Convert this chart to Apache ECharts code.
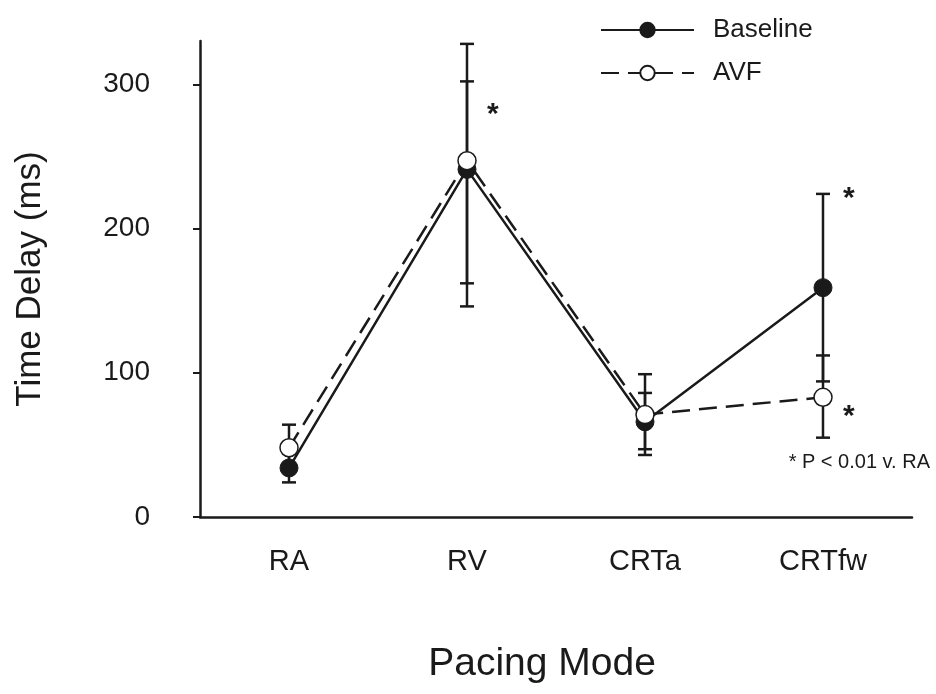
<!DOCTYPE html>
<html>
<head>
<meta charset="utf-8">
<script src="https://cdn.jsdelivr.net/npm/echarts@6/dist/echarts.min.js"></script>
<style>
html,body{margin:0;padding:0;background:#fff;}
#chart{width:936px;height:694px;}
</style>
</head>
<body>
<div id="chart"></div>
<script>
const categories = ['RA', 'RV', 'CRTa', 'CRTfw'];
const baselineMean = [34, 241, 66, 159];
const baselineLow  = [24, 146, 47, 94];
const baselineHigh = [44, 302, 86, 224];
const avfMean = [48, 247, 71, 83];
const avfLow  = [32, 162, 43, 55];
const avfHigh = [64, 328, 99, 112];
const yTicks = [0, 100, 200, 300];
const yMax = 330;
// significance asterisks: category index and value
const starCat = [1, 3, 3];
const starVal = [283, 225, 74];
const footnote = '* P < 0.01 v. RA';

const FONT = '"Liberation Sans", Arial, sans-serif';
const INK = '#1a1a1a';

function errData(low, high) {
  return categories.map((c, i) => [i, low[i], high[i]]);
}
function renderErr(params, api) {
  const x = api.value(0);
  const lo = api.coord([x, api.value(1)]);
  const hi = api.coord([x, api.value(2)]);
  const hw = 7;
  const style = { stroke: INK, lineWidth: 2.5 };
  return {
    type: 'group',
    children: [
      { type: 'line', shape: { x1: lo[0], y1: lo[1], x2: hi[0], y2: hi[1] }, style },
      { type: 'line', shape: { x1: lo[0] - hw, y1: lo[1], x2: lo[0] + hw, y2: lo[1] }, style },
      { type: 'line', shape: { x1: hi[0] - hw, y1: hi[1], x2: hi[0] + hw, y2: hi[1] }, style }
    ]
  };
}
function renderStar(params, api) {
  const p = api.coord([api.value(0), api.value(1)]);
  return {
    type: 'text',
    x: p[0] + 20, y: p[1] + 6,
    style: { text: '*', fontFamily: FONT, fontSize: 30, fontWeight: 'bold', fill: INK, align: 'left', verticalAlign: 'middle' }
  };
}

const chart = echarts.init(document.getElementById('chart'));
chart.setOption({
  backgroundColor: '#fff',
  animation: false,
  grid: { left: 200, right: 24, top: 41, bottom: 177, containLabel: false },
  legend: {
    orient: 'vertical',
    left: 595, top: 12,
    itemWidth: 93, itemHeight: 18, itemGap: 17,
    textStyle: { fontFamily: FONT, fontSize: 26, color: INK, padding: [0, 0, 0, 14] },
    data: ['Baseline', 'AVF']
  },
  xAxis: {
    type: 'category',
    data: categories,
    boundaryGap: true,
    name: 'Pacing Mode',
    nameLocation: 'middle',
    nameGap: 128,
    nameTextStyle: { fontFamily: FONT, fontSize: 39, color: INK, padding: [0, 28, 0, 0] },
    axisLine: { lineStyle: { color: INK, width: 2.5 } },
    axisTick: { alignWithLabel: true, length: 7, lineStyle: { color: INK, width: 2 } },
    axisLabel: { fontFamily: FONT, fontSize: 29, color: INK, margin: 30 },
    splitLine: { show: false }
  },
  yAxis: {
    type: 'value',
    min: 0, max: yMax, interval: 100,
    name: 'Time Delay (ms)',
    nameLocation: 'middle',
    nameGap: 152,
    nameTextStyle: { fontFamily: FONT, fontSize: 35, color: INK },
    axisLine: { show: true, lineStyle: { color: INK, width: 2.5 } },
    axisTick: { show: true, length: 7, lineStyle: { color: INK, width: 2 }, customValues: yTicks },
    axisLabel: { fontFamily: FONT, fontSize: 28, color: INK, margin: 50, customValues: yTicks },
    splitLine: { show: false }
  },
  series: [
    {
      type: 'custom', name: 'errBaseline', renderItem: renderErr,
      data: errData(baselineLow, baselineHigh), z: 1, silent: true
    },
    {
      type: 'custom', name: 'errAVF', renderItem: renderErr,
      data: errData(avfLow, avfHigh), z: 1, silent: true
    },
    {
      name: 'Baseline', type: 'line', data: baselineMean, z: 3,
      symbol: 'circle', symbolSize: 18,
      lineStyle: { color: INK, width: 2.5 },
      itemStyle: { color: INK, borderColor: INK, borderWidth: 1 }
    },
    {
      name: 'AVF', type: 'line', data: avfMean, z: 4,
      symbol: 'circle', symbolSize: 18,
      lineStyle: { color: INK, width: 2.5, type: [18, 9] },
      itemStyle: { color: '#fff', borderColor: INK, borderWidth: 1.5 }
    },
    {
      name: 'stars', type: 'custom', z: 5, silent: true,
      renderItem: renderStar,
      data: starCat.map((c, i) => [c, starVal[i]])
    }
  ],
  graphic: [
    {
      type: 'text', right: 6, top: 452,
      style: { text: footnote, fontFamily: FONT, fontSize: 20, fill: INK }
    }
  ]
});
</script>
</body>
</html>
